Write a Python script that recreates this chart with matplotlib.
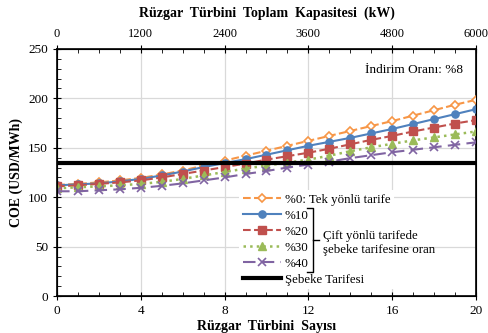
import matplotlib
matplotlib.use("Agg")
import matplotlib.pyplot as plt
import numpy as np

# data
turbines = list(range(21))
capacity_ticks = [0, 1200, 2400, 3600, 4800, 6000]
coe_0 = [112.5, 113.5, 115, 117, 119.5, 123, 127, 132, 137, 142, 147,
         152, 157, 162, 167, 172, 177, 182.5, 188, 193.5, 198.5]
coe_10 = [112, 113, 114, 116, 118.5, 122, 126, 130.5, 134.5, 138.5, 143,
          147.5, 152, 156, 160, 164.5, 169, 174, 179, 184, 189]
coe_20 = [111, 112, 113.5, 115, 117, 120, 123.5, 127, 130.5, 134, 138,
          141.5, 145, 149, 153.5, 158, 162, 166.5, 170.5, 174.5, 178]
coe_30 = [109, 110, 111, 112, 113.5, 115.5, 118.5, 122, 125.5, 129, 132,
          135, 138, 142, 146.5, 150.5, 154, 157.5, 160.5, 163.5, 166.5]
coe_40 = [106, 106, 107, 108, 109.5, 111.5, 114, 117, 120, 123.5, 126.5,
          130, 133, 136, 139.5, 142.5, 145.5, 148, 150.5, 153, 155.5]
grid_tariff = 135

plt.rcParams['font.family'] = ['Liberation Serif', 'DejaVu Serif']
plt.rcParams['font.size'] = 9

fig = plt.figure(figsize=(4.88, 3.33), dpi=100)
ax = fig.add_axes([0.117, 0.111, 0.858, 0.742])

ax.plot(turbines, coe_0, color='#F79646', ls='--', lw=1.5, marker='D', ms=4.2,
        mfc='white', mec='#F79646', mew=1.2, label='%0: Tek yönlü tarife', zorder=4)
ax.plot(turbines, coe_10, color='#4F81BD', ls='-', lw=1.5, marker='o', ms=5.2,
        label='%10', zorder=4)
ax.plot(turbines, coe_20, color='#C0504D', ls='--', lw=1.5, marker='s', ms=5.2,
        label='%20', zorder=4)
ax.plot(turbines, coe_30, color='#9BBB59', ls=':', lw=1.8, marker='^', ms=5.2,
        label='%30', zorder=4)
ax.plot(turbines, coe_40, color='#8064A2', ls=(0, (6, 3)), lw=1.5, marker='x', ms=5.5,
        mew=1.2, label='%40', zorder=4)
ax.axhline(grid_tariff, color='black', lw=3, label='Şebeke Tarifesi', zorder=5)

ax.set_xlim(0, 20)
ax.set_ylim(0, 250)
ax.set_xticks(range(0, 21, 4))
ax.set_xticks(range(0, 21), minor=True)
ax.set_yticks(range(0, 251, 50))
ax.set_yticks(range(0, 251, 10), minor=True)
ax.tick_params(which='major', direction='inout', length=6, labelsize=9.5)
ax.tick_params(which='minor', direction='in', length=3)
ax.grid(which='major', color='#D9D9D9', lw=0.9)
ax.set_axisbelow(True)
for sp in ax.spines.values():
    sp.set_linewidth(1.2)

ax.set_xlabel('Rüzgar  Türbini  Sayısı', fontweight='bold', fontsize=10, labelpad=2)
ax.set_ylabel('COE (USD/MWh)', fontweight='bold', fontsize=10, labelpad=4)

# top axis: total capacity
ax2 = ax.twiny()
ax2.set_xlim(0, 6000)
ax2.set_xticks(capacity_ticks)
ax2.set_xticks(range(0, 6001, 300), minor=True)
ax2.tick_params(which='major', direction='inout', length=6, labelsize=9)
ax2.tick_params(which='minor', direction='in', length=3)
ax2.set_xlabel('Rüzgar  Türbini  Toplam  Kapasitesi  (kW)', fontweight='bold',
               fontsize=10, labelpad=8)

ax.text(0.97, 0.915, 'İndirim Oranı: %8', transform=ax.transAxes,
        ha='right', va='center', fontsize=9.5)

leg = ax.legend(loc='upper left', bbox_to_anchor=(0.42, 0.455), fontsize=9.3,
                handlelength=2.9, labelspacing=0.3, borderpad=0.3,
                handletextpad=0.3, frameon=True, fancybox=False)
leg.get_frame().set_facecolor('white')
leg.get_frame().set_edgecolor('none')
leg.get_frame().set_alpha(1)
leg.set_zorder(6)

# bracket for the two-way tariff entries
bx = 0.612
ax.plot([bx - 0.014, bx, bx, bx - 0.014], [0.356, 0.356, 0.097, 0.097],
        color='black', lw=1, transform=ax.transAxes, zorder=7, clip_on=False)
ax.plot([bx, bx + 0.014], [0.226, 0.226], color='black', lw=1,
        transform=ax.transAxes, zorder=7, clip_on=False)
ax.text(bx + 0.022, 0.215, 'Çift yönlü tarifede\nşebeke tarifesine oran',
        transform=ax.transAxes, ha='left', va='center', fontsize=9.3,
        linespacing=1.25, zorder=7)

fig.savefig('out.png', dpi=100)
